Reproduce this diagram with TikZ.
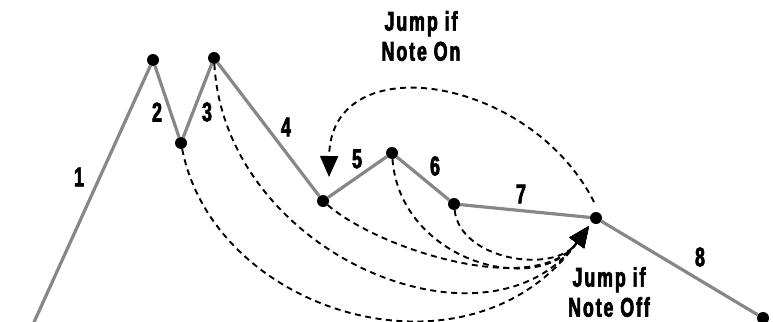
\documentclass[tikz,border=0pt]{standalone}
\usepackage{fontspec}
\newfontfamily\labfont{Liberation Sans}[FakeStretch=0.66,LetterSpace=7,FakeBold=2.5]
\usetikzlibrary{arrows.meta}
\definecolor{segc}{RGB}{135,135,135}
\begin{document}
\begin{tikzpicture}[x=1pt,y=-1pt,
  dot/.style={circle,fill=black,inner sep=0pt,minimum size=12pt},
  seg/.style={draw=segc,line width=3.2pt},
  jump/.style={draw=black,line width=1.9pt,dash pattern=on 6pt off 4.5pt,-{Triangle[length=21pt,width=18pt]}},
  num/.style={font=\labfont\bfseries\fontsize{27}{30}\selectfont,inner sep=0pt},
  lab/.style={num,align=center}]
\path[use as bounding box] (0,0) rectangle (773,321);
\clip (0,0) rectangle (773,321);
\coordinate (p0) at (30,331);
\node[dot] (p1) at (153,60) {};
\node[dot] (p2) at (181,143) {};
\node[dot] (p3) at (214,58) {};
\node[dot] (p4) at (323,201) {};
\node[dot] (p5) at (392,153) {};
\node[dot] (p6) at (454,204) {};
\node[dot] (p7) at (596,218) {};
\node[dot] (p8) at (763,318) {};
\draw[seg] (p0) -- (p1) -- (p2) -- (p3) -- (p4) -- (p5) -- (p6) -- (p7) -- (p8);
\coordinate (ontail) at (594,202);
\coordinate (ontip) at (329,177);
\draw[jump] (ontail) .. controls (530,75) and (330,45) .. (ontip);
\coordinate (offtip) at (589,226);
\draw[jump] (p2) .. controls (215,315) and (470,390) .. (offtip);
\draw[jump] (p3) .. controls (225,255) and (488,363) .. (offtip);
\draw[jump] (p4) .. controls (380,250) and (536,299) .. (offtip);
\draw[jump] (p5) .. controls (400,260) and (536,299) .. (offtip);
\draw[jump] (p6) .. controls (460,260) and (554,275) .. (offtip);
\node[num] (n1) at (79,177) {1};
\node[num] (n2) at (157,112) {2};
\node[num] (n3) at (207,112) {3};
\node[num] (n4) at (286,127) {4};
\node[num] (n5) at (357,159) {5};
\node[num] (n6) at (435,166) {6};
\node[num] (n7) at (521,194) {7};
\node[num] (n8) at (700,257) {8};
\node[lab] (on) at (421,36) {Jump if\\Note On};
\node[lab] (off) at (609,292) {Jump if\\Note Off};
\end{tikzpicture}
\end{document}
